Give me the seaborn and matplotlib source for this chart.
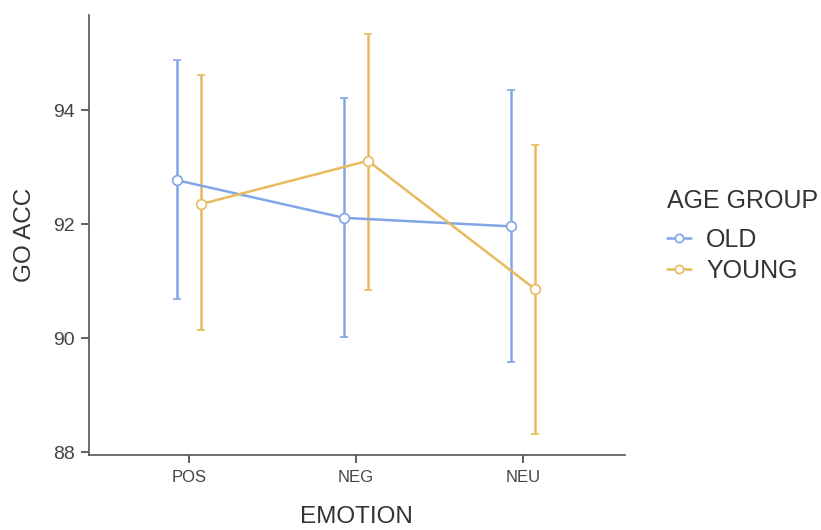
import numpy as np
import pandas as pd
import matplotlib
matplotlib.use("Agg")
import matplotlib.pyplot as plt
import seaborn as sns

emotions = ["POS", "NEG", "NEU"]
groups = ["OLD", "YOUNG"]
old_mean = [92.77, 92.11, 91.96]
old_low = [90.68, 90.02, 89.58]
old_high = [94.88, 94.21, 94.35]
young_mean = [92.35, 93.11, 90.86]
young_low = [90.14, 90.84, 88.32]
young_high = [94.61, 95.33, 93.39]
colors = ["#80a6e6", "#e8ba5e"]

df = pd.DataFrame({
    "EMOTION": emotions * 2,
    "AGE GROUP": ["OLD"] * 3 + ["YOUNG"] * 3,
    "GO ACC": old_mean + young_mean,
})

sns.set_style("ticks")
plt.rcParams["font.family"] = ["Liberation Sans", "DejaVu Sans"]
plt.rcParams["text.color"] = "#333333"
plt.rcParams["axes.labelcolor"] = "#333333"
plt.rcParams["xtick.color"] = "#444444"
plt.rcParams["ytick.color"] = "#444444"

fig = plt.figure(figsize=(8.21, 5.30), dpi=100)
ax = fig.add_axes([0.108, 0.1415, 0.653, 0.8305])

dodge = 0.144
offsets = [-dodge / 2, dodge / 2]
lows = [old_low, young_low]
highs = [old_high, young_high]
means = [old_mean, young_mean]

# error bars first so points sit on top
for k, g in enumerate(groups):
    xs = np.arange(len(emotions)) + offsets[k]
    m = np.array(means[k])
    yerr = [m - np.array(lows[k]), np.array(highs[k]) - m]
    ax.errorbar(xs, m, yerr=yerr, fmt="none", ecolor=colors[k],
                elinewidth=1.8, capsize=3, capthick=1.8, zorder=1)

sns.pointplot(data=df, x="EMOTION", y="GO ACC", hue="AGE GROUP",
              order=emotions, hue_order=groups, palette=colors,
              dodge=dodge, errorbar=None, markers="o",
              markersize=7, linewidth=1.8, ax=ax, zorder=3)

for line in ax.lines:
    line.set_markerfacecolor("white")
    line.set_markeredgewidth(1.2)

ax.set_xlim(-0.6, 2.61)
ax.set_ylim(87.95, 95.67)
ax.set_yticks([88, 90, 92, 94])
ax.set_xlabel("EMOTION", fontsize=17.5, labelpad=15)
ax.set_ylabel("GO ACC", fontsize=17.5, labelpad=12)
ax.tick_params(axis="y", labelsize=14, length=6, width=1.2, pad=4)
ax.tick_params(axis="x", labelsize=12, length=6, width=1.2, pad=5)
for s in ["left", "bottom"]:
    ax.spines[s].set_color("#555555")
    ax.spines[s].set_linewidth(1.2)
sns.despine(ax=ax)

leg = ax.legend(title="AGE GROUP", loc="upper left", bbox_to_anchor=(1.056, 0.632),
                frameon=False, fontsize=18, title_fontsize=18, borderpad=0,
                handlelength=0.95, handletextpad=0.6, labelspacing=0.27,
                markerscale=0.85)
leg._legend_box.align = "left"
leg._legend_box.sep = 10.5
for h in leg.legend_handles:
    h.set_markerfacecolor("white")

fig.savefig("out.png", dpi=100)
